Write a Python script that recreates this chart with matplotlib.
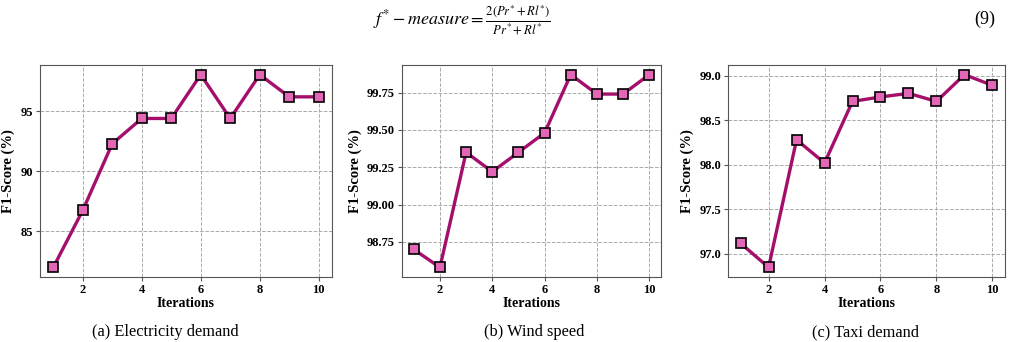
import matplotlib
matplotlib.use("Agg")
import matplotlib.pyplot as plt

iterations = [1, 2, 3, 4, 5, 6, 7, 8, 9, 10]
electricity = [82.0, 86.75, 92.3, 94.4, 94.4, 98.05, 94.4, 98.05, 96.2, 96.2]
wind = [98.70, 98.58, 99.35, 99.22, 99.35, 99.48, 99.87, 99.74, 99.74, 99.87]
taxi = [97.12, 96.85, 98.28, 98.02, 98.71, 98.76, 98.80, 98.71, 99.01, 98.89]

captions = ["(a) Electricity demand", "(b) Wind speed", "(c) Taxi demand"]
yticks = [[85, 90, 95], [98.75, 99.00, 99.25, 99.50, 99.75], [97.0, 97.5, 98.0, 98.5, 99.0]]
yfmt = ["{:.0f}", "{:.2f}", "{:.1f}"]
xticks = [2, 4, 6, 8, 10]

plt.rcParams['font.family'] = ['Liberation Serif', 'DejaVu Serif']
plt.rcParams['mathtext.fontset'] = 'stix'

fig = plt.figure(figsize=(10.10, 3.42), dpi=100)
W, H = 1010, 342
boxes = [(40, 332), (402, 661), (728, 1005)]
cap_x = [165, 534, 865]
top, bottom = 65, 277
line_c = '#A50F6C'
face_c = '#E466B6'

for i, (data, (l, r)) in enumerate(zip([electricity, wind, taxi], boxes)):
    ax = fig.add_axes([l / W, 1 - bottom / H, (r - l) / W, (bottom - top) / H])
    ax.plot(iterations, data, color=line_c, lw=2.4, marker='s', ms=7.8,
            mfc=face_c, mec='black', mew=1.2, zorder=3)
    ax.set_xticks(xticks)
    ax.set_yticks(yticks[i])
    ax.set_yticklabels([yfmt[i].format(v) for v in yticks[i]])
    ax.grid(True, ls='--', color='#AAAAAA', lw=0.7)
    for lab in ax.get_xticklabels() + ax.get_yticklabels():
        lab.set_fontweight('bold')
        lab.set_fontsize(9)
    ax.tick_params(length=3, width=0.8, color='#555555', pad=2)
    for s in ax.spines.values():
        s.set_color('#555555')
        s.set_linewidth(0.8)
    ax.set_xlabel("Iterations", fontweight='bold', fontsize=10, labelpad=1)
    ax.set_ylabel("F1-Score (%)", fontweight='bold', fontsize=10.5, labelpad=4)
    fig.text(cap_x[i] / W, 1 - 332 / H, captions[i], ha='center', va='center', fontsize=11.8)

fig.text(462 / W, 1 - 20 / H,
         r"$f^{*} - measure = \frac{2(Pr^{*}+Rl^{*})}{Pr^{*}+Rl^{*}}$",
         ha='center', va='center', fontsize=13)
fig.text(985 / W, 1 - 19 / H, "(9)", ha='center', va='center', fontsize=13)

fig.savefig("out.png", dpi=100)
